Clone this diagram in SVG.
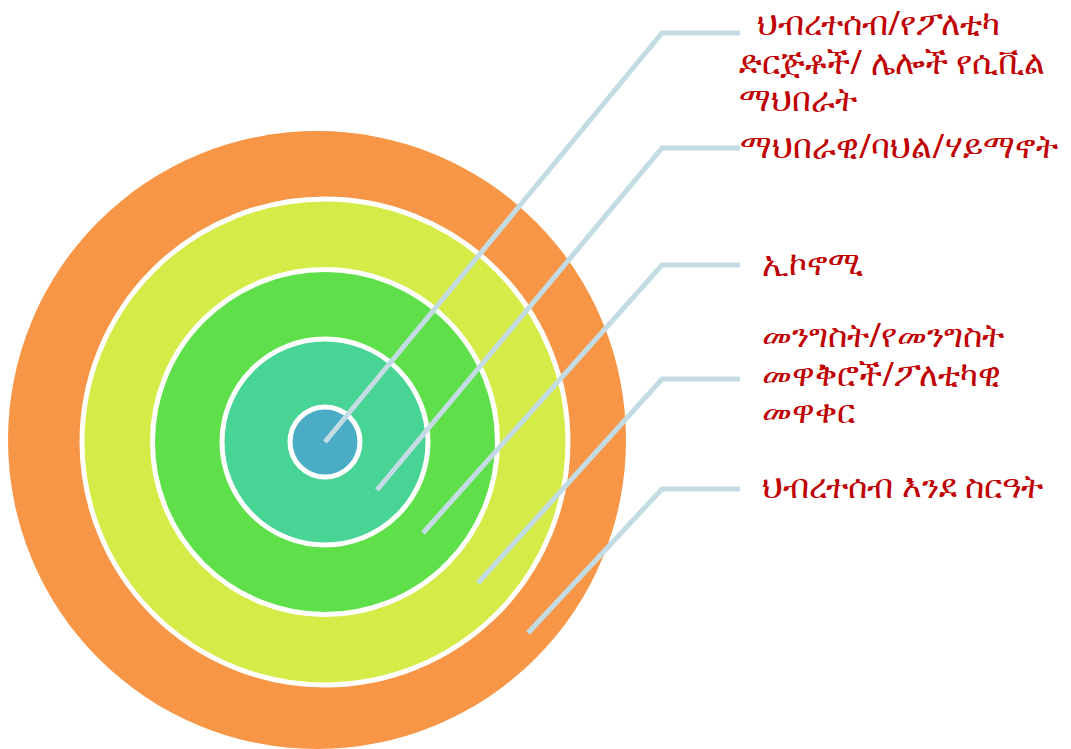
<svg xmlns="http://www.w3.org/2000/svg" width="1071" height="749" viewBox="0 0 1071 749">
<style>
.ring{stroke:#FFFFFF;stroke-width:5}
.conn{fill:none;stroke:#C3DCE4;stroke-width:5;stroke-linecap:butt}
.lbl{font-family:"Noto Sans","DejaVu Sans",sans-serif;font-size:33px;fill:#C00000}
</style>
<rect width="1071" height="749" fill="#FFFFFF"/>
<g id="ring-society-system"><circle cx="317" cy="440" r="309" fill="#F79646"/></g>
<g id="ring-government"><circle class="ring" cx="325" cy="442" r="243" fill="#D5EB47"/></g>
<g id="ring-economy"><circle class="ring" cx="325" cy="442" r="172.5" fill="#5FE04A"/></g>
<g id="ring-social"><circle class="ring" cx="325" cy="442" r="103" fill="#48D495"/></g>
<g id="ring-community"><circle class="ring" cx="325" cy="442" r="35" fill="#4BACC6"/></g>
<g id="connectors">
<polyline class="conn" points="325,442 662,33 740,33"/>
<polyline class="conn" points="377,490 662,148 740,148"/>
<polyline class="conn" points="423,533 662,265 740,265"/>
<polyline class="conn" points="478,583 662,379 740,379"/>
<polyline class="conn" points="528,633 662,489 740,489"/>
</g>
<g id="label-community">
<text class="lbl" x="757" y="35">ህብረተሰብ/የፖለቲካ</text>
<text class="lbl" x="739" y="74">ድርጅቶች/ ሌሎች የሲቪል</text>
<text class="lbl" x="739" y="111">ማህበራት</text>
</g>
<g id="label-social"><text class="lbl" x="740" y="158">ማህበራዊ/ባህል/ሃይማኖት</text></g>
<g id="label-economy"><text class="lbl" x="762" y="275">ኢኮኖሚ</text></g>
<g id="label-government">
<text class="lbl" x="762" y="347">መንግስት/የመንግስት</text>
<text class="lbl" x="762" y="386">መዋቅሮች/ፖለቲካዊ</text>
<text class="lbl" x="762" y="423">መዋቀር</text>
</g>
<g id="label-society-system"><text class="lbl" x="762" y="498">ህብረተሰብ እንደ ስርዓት</text></g>
</svg>
